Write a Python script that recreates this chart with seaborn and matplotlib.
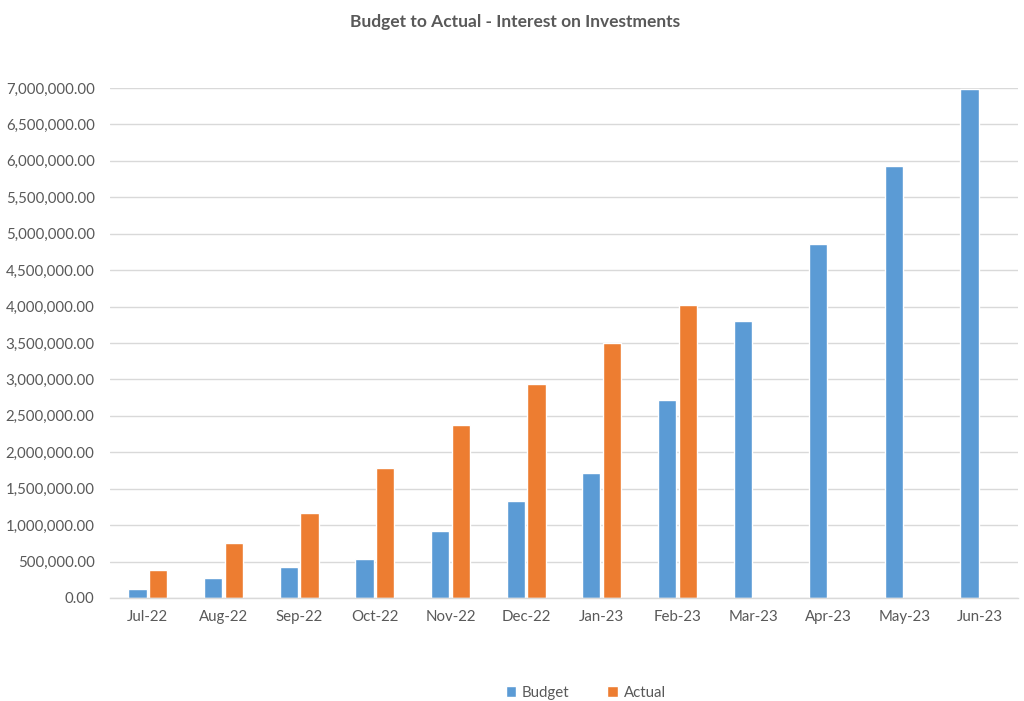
import numpy as np
import pandas as pd
import matplotlib
matplotlib.use("Agg")
import matplotlib.pyplot as plt
import seaborn as sns
from matplotlib.ticker import FuncFormatter, FixedLocator

# ── Data ─────────────────────────────────────────────────────────────────────
months = ["Jul-22", "Aug-22", "Sep-22", "Oct-22", "Nov-22", "Dec-22",
          "Jan-23", "Feb-23", "Mar-23", "Apr-23", "May-23", "Jun-23"]
budget = [125000, 270000, 420000, 540000, 925000, 1330000,
          1715000, 2720000, 3800000, 4860000, 5930000, 6990000]
actual = [384000, 760000, 1170000, 1780000, 2370000, 2935000,
          3505000, 4020000, np.nan, np.nan, np.nan, np.nan]

df = pd.DataFrame({
    "Month": months * 2,
    "Value": budget + actual,
    "Series": ["Budget"] * len(months) + ["Actual"] * len(months),
})

# ── Style ────────────────────────────────────────────────────────────────────
sns.set_theme(style="white")
plt.rcParams["font.family"] = ["Lato", "DejaVu Sans"]
grey = "#595959"
colors = {"Budget": "#5B9BD5", "Actual": "#ED7D31"}

fig = plt.figure(figsize=(10.24, 7.01), dpi=100)
ax = fig.add_axes([0.1074, 0.147, 0.8866, 0.7275])

sns.barplot(data=df, x="Month", y="Value", hue="Series", order=months,
            hue_order=["Budget", "Actual"], palette=colors,
            width=0.55, gap=0.12, saturation=1, ax=ax, legend=True)

ax.set_ylim(0, 7000000)
ax.set_xlim(-0.5, len(months) - 0.5)
ax.set_yticks(np.arange(0, 7000001, 500000))
ax.yaxis.set_major_formatter(FuncFormatter(lambda v, p: f"{v:,.2f}"))
ax.grid(axis="y", color="#D9D9D9", linewidth=1)
ax.set_axisbelow(True)

for s in ["top", "right", "left"]:
    ax.spines[s].set_visible(False)
ax.spines["bottom"].set_color("#D9D9D9")
ax.spines["bottom"].set_linewidth(1)

ax.tick_params(axis="y", length=0, labelsize=10.8, labelcolor=grey, pad=11)
ax.tick_params(axis="x", which="major", length=0, labelsize=10.8, labelcolor=grey, pad=9)
ax.xaxis.set_minor_locator(FixedLocator(np.arange(-0.5, len(months), 1)))
ax.tick_params(axis="x", which="minor", length=5, color="#D9D9D9", width=1)

ax.set_xlabel("")
ax.set_ylabel("")

fig.text(0.503, 0.968, "Budget to Actual - Interest on Investments",
         ha="center", va="center", fontsize=12.5, fontweight="bold", color=grey)

handles, labels = ax.get_legend_handles_labels()
ax.legend_.remove()
fig.legend(handles, labels, loc="center", bbox_to_anchor=(0.572, 0.012),
           ncol=2, frameon=False, fontsize=10.8, labelcolor=grey,
           handlelength=0.7, handleheight=0.7, handletextpad=0.4,
           columnspacing=2.5)

fig.savefig("out.png", dpi=100)
plt.close()
